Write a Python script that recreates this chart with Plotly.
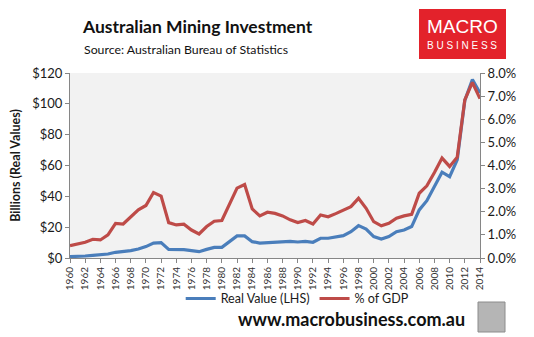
import plotly.graph_objects as go

# Australian mining investment, 1960-2014
years = list(range(1960, 2015))

# Real value of mining investment, $ billions (left axis)
real_value = [
    0.9, 0.9, 1.3, 1.7, 1.9, 2.6, 3.7, 4.1, 4.8, 5.8,
    7.4, 9.7, 10.0, 5.6, 5.6, 5.4, 4.8, 4.1, 5.6, 6.9,
    6.9, 10.6, 14.3, 14.3, 10.6, 9.7, 10.0, 10.2, 10.2, 10.8,
    10.4, 10.8, 10.2, 12.8, 12.8, 13.4, 14.5, 17.1, 21.0, 18.8,
    13.9, 12.3, 13.9, 17.1, 18.2, 20.4, 31.2, 37.2, 46.3, 55.7,
    52.8, 63.7, 102.2, 115.7, 107.0,
]

# Mining investment as a share of GDP (right axis)
pct_gdp = [
    0.0053, 0.0061, 0.0068, 0.0081, 0.0078, 0.0100, 0.0150, 0.0147, 0.0179, 0.0208,
    0.0227, 0.0283, 0.0268, 0.0153, 0.0143, 0.0146, 0.0121, 0.0104, 0.0136, 0.0159,
    0.0162, 0.0234, 0.0302, 0.0318, 0.0212, 0.0182, 0.0198, 0.0193, 0.0182, 0.0165,
    0.0153, 0.0162, 0.0147, 0.0186, 0.0178, 0.0192, 0.0208, 0.0222, 0.0258, 0.0215,
    0.0157, 0.0139, 0.0150, 0.0172, 0.0182, 0.0189, 0.0280, 0.0312, 0.0370, 0.0432,
    0.0396, 0.0436, 0.0684, 0.0759, 0.0689,
]

left_ticks = [0, 20, 40, 60, 80, 100, 120]
left_labels = ["$0", "$20", "$40", "$60", "$80", "$100", "$120"]
right_ticks = [0, 0.01, 0.02, 0.03, 0.04, 0.05, 0.06, 0.07, 0.08]
right_labels = ["0.0%", "1.0%", "2.0%", "3.0%", "4.0%", "5.0%", "6.0%", "7.0%", "8.0%"]
year_ticks = list(range(1960, 2015, 2))

BLUE = "#4a7ebb"
RED = "#be4b48"
AXIS = "#868686"
FONT = "Lato"

fig = go.Figure()
fig.add_trace(go.Scatter(
    x=years, y=real_value, name="Real Value (LHS)", mode="lines",
    line=dict(color=BLUE, width=3.2), yaxis="y",
))
fig.add_trace(go.Scatter(
    x=years, y=pct_gdp, name="% of GDP", mode="lines",
    line=dict(color=RED, width=3.2), yaxis="y2",
))

fig.update_layout(
    width=534, height=337,
    margin=dict(l=70, r=54, t=73, b=79),
    paper_bgcolor="white",
    plot_bgcolor="#f2f2f2",
    font=dict(family=FONT, color="#1a1a1a", size=11),
    showlegend=True,
    legend=dict(
        orientation="h", x=0.27, y=-0.14, xanchor="left", yanchor="top",
        font=dict(size=12.5, family=FONT), bgcolor="rgba(0,0,0,0)",
        itemwidth=30, tracegroupgap=0,
    ),
    xaxis=dict(
        range=[1960, 2014], tickmode="array", tickvals=year_ticks,
        ticktext=[str(y) for y in year_ticks], tickangle=-90,
        tickfont=dict(size=10, family=FONT, color="#333333"),
        showgrid=False, zeroline=False, showline=True, linecolor=AXIS,
        ticks="outside", ticklen=4, tickcolor=AXIS,
    ),
    yaxis=dict(
        range=[0, 120], tickmode="array", tickvals=left_ticks, ticktext=left_labels,
        tickfont=dict(size=13, family=FONT, color="#1a1a1a"),
        showgrid=False, zeroline=False, showline=True, linecolor=AXIS,
        ticks="outside", ticklen=4, tickcolor=AXIS,
        title=dict(text="<b>Billions (Real Values)</b>", font=dict(size=12.5, family=FONT), standoff=8),
    ),
    yaxis2=dict(
        range=[0, 0.08], tickmode="array", tickvals=right_ticks, ticktext=right_labels,
        overlaying="y", side="right",
        tickfont=dict(size=13, family=FONT, color="#1a1a1a"),
        showgrid=False, zeroline=False, showline=True, linecolor=AXIS,
        ticks="outside", ticklen=4, tickcolor=AXIS,
    ),
)

# Title block
fig.add_annotation(
    text="<b>Australian Mining Investment</b>", xref="paper", yref="paper",
    x=(80 - 70) / 410, y=1 + (73 - 27) / 185, xanchor="left", yanchor="middle",
    showarrow=False, font=dict(size=17.5, family=FONT, color="#111111"),
)
fig.add_annotation(
    text="Source: Australian Bureau of Statistics", xref="paper", yref="paper",
    x=(82 - 70) / 410, y=1 + (73 - 49) / 185, xanchor="left", yanchor="middle",
    showarrow=False, font=dict(size=12.3, family=FONT, color="#111111"),
)

# MacroBusiness badge
fig.add_shape(
    type="rect", xref="paper", yref="paper",
    x0=(419 - 70) / 410, x1=(506 - 70) / 410,
    y0=1 + (73 - 59) / 185, y1=1 + (73 - 9) / 185,
    fillcolor="#e3222b", line=dict(width=0), layer="above",
)
fig.add_annotation(
    text="MACRO", xref="paper", yref="paper",
    x=(462 - 70) / 410, y=1 + (73 - 27) / 185, xanchor="center", yanchor="middle",
    showarrow=False, font=dict(size=19, family="Liberation Sans", color="white"),
)
fig.add_annotation(
    text="B U S I N E S S", xref="paper", yref="paper",
    x=(462 - 70) / 410, y=1 + (73 - 45) / 185, xanchor="center", yanchor="middle",
    showarrow=False, font=dict(size=10, family="Liberation Sans", color="white"),
)

# Footer
fig.add_annotation(
    text="<b>www.macrobusiness.com.au</b>", xref="paper", yref="paper",
    x=(351 - 70) / 410, y=-(319 - 258) / 185, xanchor="center", yanchor="middle",
    showarrow=False, font=dict(size=18, family=FONT, color="#111111"),
)
fig.add_shape(
    type="rect", xref="paper", yref="paper",
    x0=(478 - 70) / 410, x1=(505 - 70) / 410,
    y0=-(332 - 258) / 185, y1=-(302 - 258) / 185,
    fillcolor="#b5b5b5", line=dict(color="#8c8c8c", width=1),
)

fig.write_html("out.html")
